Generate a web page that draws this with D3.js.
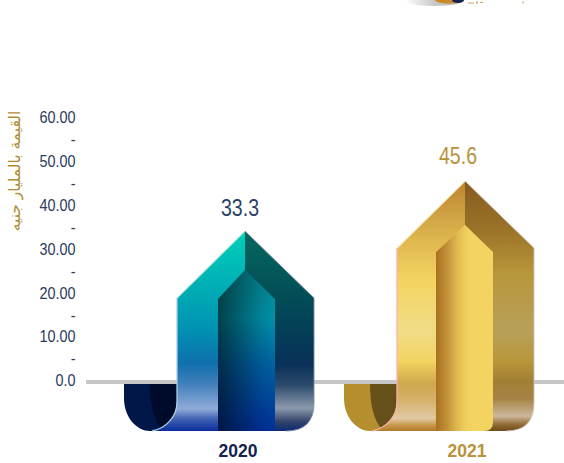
<!DOCTYPE html>
<html><head><meta charset="utf-8">
<style>html,body{margin:0;padding:0;background:#fff}svg{display:block}text{font-family:"Liberation Sans",Arial,sans-serif}</style>
<script src="https://cdn.jsdelivr.net/npm/d3@7"></script></head><body>
<script>
const years = ["2020", "2021"];
const values = [33.3, 45.6];
const axisTicks = [0,5,10,15,20,25,30,35,40,45,50,55,60];
const axisTitle = "القيمة بالمليار جنيه";
const valueColors = ["#2b4068", "#b8923a"];
const yearColors = ["#14224e", "#b8923a"];

const W = 564, H = 463;
const svg = d3.select("body").append("svg").attr("width", W).attr("height", H);
const defs = svg.append("defs");
const x = d3.scalePoint().domain(years).range([245, 465]);
const yAxisScale = d3.scaleLinear().domain([0, 60]).range([380, 117]);
const yMark = d3.scaleLinear().domain([0, 60]).range([366.5, 122.5]);
const baseTop = 380, curlTop = 384, bottom = 431;

const palettes = [
  { left: [[0,"#00d0bb"],[.33,"#00a8b4"],[.5,"#0090b3"],[.66,"#0f70ad"],[.76,"#3f7fbb"],[.89,"#8fabd8"],[.94,"#3f62b2"],[1,"#0a2d9c"]],
    right: [[0,"#05685f"],[.33,"#024d56"],[.55,"#053a58"],[.67,"#0a3158"],[.77,"#2c4a6c"],[.885,"#8c99ac"],[.95,"#36466e"],[1,"#0a2a70"]],
    inner: [[0,"#058590"],[.3,"#0092a8"],[.6,"#0060a4"],[1,"#00309c"]],
    shade: [[0,"#000",.55],[.75,"#000",.1],[1,"#000",0]],
    curlA:"#001747", curlB:"#000a2b", edge:"#a9cfe0", ridge:"#bfe8dc", rim:"#7d8ba0",
    innerRound:0, innerDx:[-27,30], innerApex:39, innerShoulder:68 },
  { left: [[0,"#bb8431"],[.2,"#d9b04c"],[.4,"#f3d461"],[.6,"#f1dc88"],[.72,"#f3d461"],[.81,"#cfa84e"],[.87,"#d4b066"],[.95,"#e2c9a4"],[.975,"#c99c50"],[1,"#b07a2a"]],
    right: [[0,"#845a1e"],[.2,"#9c7429"],[.37,"#b8963a"],[.6,"#b8a05a"],[.72,"#b8963a"],[.8,"#a37f35"],[.87,"#a58244"],[.94,"#cdb89a"],[.975,"#8f6a35"],[1,"#6e4a18"]],
    inner: [[0,"#f3d461"],[1,"#f3d461"]],
    shade: [[0,"#a8701f",1],[.22,"#c08f37",.9],[.5,"#e6c255",.5],[.7,"#f3d461",0],[1,"#f3d461",0]],
    curlA:"#b58e2e", curlB:"#66501a", edge:"#f7b3ab", ridge:"#fff2c8", rim:"#c9c4bc",
    innerRound:9, innerDx:[-29,28], innerApex:44, innerShoulder:71 }
];

function grad(id, x1, y1, x2, y2, stops) {
  const g = defs.append("linearGradient").attr("id", id).attr("gradientUnits", "userSpaceOnUse")
    .attr("x1", x1).attr("y1", y1).attr("x2", x2).attr("y2", y2);
  stops.forEach(s => g.append("stop").attr("offset", s[0]).attr("stop-color", s[1]).attr("stop-opacity", s[2] === undefined ? 1 : s[2]));
}

// baseline
svg.append("rect").attr("x", 86).attr("y", baseTop).attr("width", W - 86).attr("height", curlTop - baseTop).attr("fill", "#c6c6c8");

// axis
const axis = d3.axisLeft(yAxisScale).tickValues(axisTicks).tickSize(0).tickPadding(0)
  .tickFormat(d => d === 0 ? "0.0" : d % 10 === 0 ? d.toFixed(2) : "-");
const axG = svg.append("g").attr("transform", "translate(75.5,0)").call(axis);
axG.select(".domain").remove();
axG.selectAll("text").attr("x", 0).attr("dy", "0.36em").attr("transform", "scale(0.9,1)")
  .style("font-size", "16px").attr("fill", "#2a3a5c");

svg.append("text").attr("transform", "translate(20,171) rotate(-90)").attr("text-anchor", "middle")
  .style("font-family", "'DejaVu Sans'").style("font-size", "15.5px").attr("fill", "#b08a35").text(axisTitle);

// ribbons
years.forEach((yr, i) => {
  const p = palettes[i], cx = x(yr), apex = yMark(values[i]), sh = apex + 67;
  const ia = apex + p.innerApex, is = apex + p.innerShoulder;
  const [il, ir] = p.innerDx;
  grad("L"+i, 0, apex, 0, bottom, p.left);
  grad("R"+i, 0, apex, 0, bottom, p.right);
  grad("I"+i, 0, ia, 0, bottom, p.inner);
  grad("S"+i, cx+il, 0, cx+ir, 0, p.shade);
  const g = svg.append("g");
  const lx = cx - 68, rx = cx + 69;
  // curl
  g.append("path").attr("fill", p.curlA)
    .attr("d", `M${cx-121},${curlTop}V398C${cx-121},418 ${cx-108},${bottom} ${cx-95},${bottom}H${cx-70}V${curlTop}Z`);
  g.append("path").attr("fill", p.curlB)
    .attr("d", `M${cx-95},${curlTop}H${lx}V400C${lx},412 ${cx-74},424 ${cx-84},428C${cx-91},420 ${cx-95},405 ${cx-95},${curlTop}Z`);
  // back panel
  g.append("path").attr("fill", `url(#R${i})`)
    .attr("d", `M${cx},${apex}L${rx},${sh}V403Q${rx},${bottom} ${rx-28},${bottom}H${cx}Z`);
  // front panel
  g.append("path").attr("fill", `url(#L${i})`)
    .attr("d", `M${cx},${apex}L${lx},${sh}V402C${lx},416 ${lx-10},428 ${lx-25},${bottom}H${cx}Z`);
  // inner column
  const innerPath = `M${cx+il},${is}L${cx},${ia}L${cx+ir},${is}V${bottom-p.innerRound}Q${cx+ir},${bottom} ${cx+ir-p.innerRound},${bottom}H${cx+il}Z`;
  g.append("path").attr("fill", `url(#I${i})`).attr("d", innerPath);
  g.append("path").attr("fill", `url(#S${i})`).attr("d", innerPath);
  // edge highlights
  g.append("path").attr("fill", "none").attr("stroke", p.edge).attr("stroke-width", 1.3)
    .attr("d", `M${lx},${sh}V402C${lx},416 ${lx-10},428 ${lx-25},${bottom}`);
  g.append("path").attr("fill", "none").attr("stroke", p.ridge).attr("stroke-width", 1.2)
    .attr("d", `M${lx},${sh}L${cx},${apex}`);
  g.append("path").attr("fill", "none").attr("stroke", p.rim).attr("stroke-width", 0.9)
    .attr("d", `M${cx},${apex}L${rx},${sh}V403Q${rx},${bottom} ${rx-28},${bottom}`);
});

// value labels
svg.selectAll(".val").data(values).join("text").attr("class", "val")
  .attr("transform", (d, i) => `translate(${x(years[i]) + (i ? -7 : -5)},${yMark(d) + (i ? -17 : -15)}) scale(0.85,1)`)
  .attr("text-anchor", "middle").style("font-size", "23px")
  .attr("fill", (d, i) => valueColors[i]).text(d => d.toFixed(1));

// category labels
svg.selectAll(".yr").data(years).join("text").attr("class", "yr")
  .attr("x", (d, i) => x(d) + (i ? 2 : -7)).attr("y", 457).attr("text-anchor", "middle")
  .style("font-size", "17.5px").style("font-weight", "bold")
  .attr("fill", (d, i) => yearColors[i]).text(d => d);

// cropped logo remnant at the top edge
grad("logoShadow", 405, 0, 462, 0, [[0,"#fff"],[.5,"#c9c9c9"],[1,"#b5b5b5"]]);
svg.append("ellipse").attr("cx", 434).attr("cy", 0).attr("rx", 30).attr("ry", 6).attr("fill", "url(#logoShadow)");
svg.append("ellipse").attr("cx", 449).attr("cy", 0).attr("rx", 14).attr("ry", 3.5).attr("fill", "#c98a2a");
svg.append("ellipse").attr("cx", 458).attr("cy", 0).attr("rx", 6).attr("ry", 3).attr("fill", "#14224e");
svg.append("path").attr("d", "M468,3H474M477,1V4M480,2.5H483M523,1.5V3.5").attr("stroke", "#c9a45a").attr("stroke-width", 1.2).attr("fill", "none");
</script></body></html>
